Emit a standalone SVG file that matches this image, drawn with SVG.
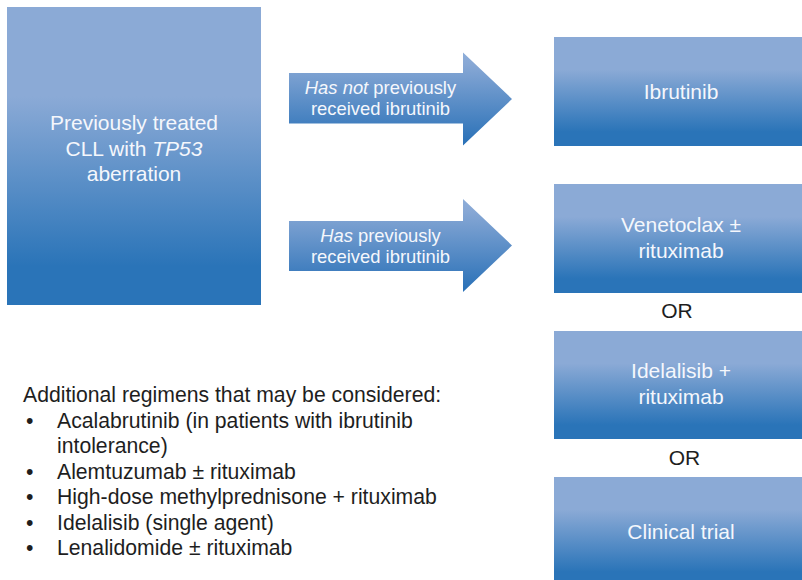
<svg xmlns="http://www.w3.org/2000/svg" width="802" height="580" viewBox="0 0 802 580">
  <defs>
    <!-- box fill: flat light top, blend, flat dark bottom -->
    <linearGradient id="boxFill" x1="0" y1="0" x2="0" y2="1">
      <stop offset="0" stop-color="#8BAAD6"/>
      <stop offset="0.3" stop-color="#8BAAD6"/>
      <stop offset="0.87" stop-color="#2A74B8"/>
      <stop offset="1" stop-color="#2A74B8"/>
    </linearGradient>
    <!-- block arrow fill: light top to dark bottom -->
    <linearGradient id="arrowFill" x1="0" y1="0" x2="0" y2="1">
      <stop offset="0" stop-color="#8DADD9"/>
      <stop offset="0.12" stop-color="#88A8D5"/>
      <stop offset="1" stop-color="#2870B7"/>
    </linearGradient>
    <style>
      .box { fill: url(#boxFill); }
      .arrow { fill: url(#arrowFill); }
      .lbl { font-family: "Liberation Sans", Arial, Helvetica, sans-serif; fill: #F5F7FC; text-anchor: middle; }
      .big { font-size: 21px; }
      .alab { font-size: 18.4px; }
      .dark { font-family: "Liberation Sans", Arial, Helvetica, sans-serif; fill: #1E1E1E; font-size: 21.2px; }
      .or { text-anchor: middle; font-size: 21px; }
      .it { font-style: italic; }
    </style>
  </defs>

  <rect width="802" height="580" fill="#FFFFFF"/>

  <!-- starting condition -->
  <g id="node-start">
    <rect class="box" x="7" y="7" width="254" height="298"/>
    <text class="lbl big" x="134" y="130">Previously treated</text>
    <text class="lbl big" x="134" y="156">CLL with <tspan class="it">TP53</tspan></text>
    <text class="lbl big" x="134" y="181">aberration</text>
  </g>

  <!-- branch arrows -->
  <g id="connectors">
    <g id="arrow-naive">
      <path class="arrow" d="M289,73 H463 V52.5 L512,99 L463,145.5 V123.5 H289 Z"/>
      <text class="lbl alab" x="380.5" y="94"><tspan class="it">Has not</tspan> previously</text>
      <text class="lbl alab" x="380.5" y="115">received ibrutinib</text>
    </g>
    <g id="arrow-exposed">
      <path class="arrow" d="M289,221 H463 V199 L512,245.5 L463,292 V271 H289 Z"/>
      <text class="lbl alab" x="380.5" y="242"><tspan class="it">Has</tspan> previously</text>
      <text class="lbl alab" x="380.5" y="263">received ibrutinib</text>
    </g>
  </g>

  <!-- treatment options -->
  <g id="node-ibrutinib">
    <rect class="box" x="554" y="37" width="248" height="109"/>
    <text class="lbl big" x="681" y="99">Ibrutinib</text>
  </g>

  <g id="node-venetoclax">
    <rect class="box" x="554" y="184" width="248" height="109"/>
    <text class="lbl big" x="681" y="232">Venetoclax ±</text>
    <text class="lbl big" x="681" y="258">rituximab</text>
  </g>

  <text class="dark or" x="677" y="318">OR</text>

  <g id="node-idelalisib">
    <rect class="box" x="554" y="331" width="248" height="108"/>
    <text class="lbl big" x="681" y="378">Idelalisib +</text>
    <text class="lbl big" x="681" y="404">rituximab</text>
  </g>

  <text class="dark or" x="684.5" y="465">OR</text>

  <g id="node-trial">
    <rect class="box" x="554" y="477" width="248" height="109"/>
    <text class="lbl big" x="681" y="539">Clinical trial</text>
  </g>

  <!-- additional regimens list -->
  <g id="regimens">
    <text class="dark" x="23" y="402">Additional regimens that may be considered:</text>
    <text class="dark" x="26" y="427.5">•</text>
    <text class="dark" x="57" y="427.5">Acalabrutinib (in patients with ibrutinib</text>
    <text class="dark" x="57" y="453">intolerance)</text>
    <text class="dark" x="26" y="478.5">•</text>
    <text class="dark" x="57" y="478.5">Alemtuzumab ± rituximab</text>
    <text class="dark" x="26" y="504">•</text>
    <text class="dark" x="57" y="504">High-dose methylprednisone + rituximab</text>
    <text class="dark" x="26" y="529.5">•</text>
    <text class="dark" x="57" y="529.5">Idelalisib (single agent)</text>
    <text class="dark" x="26" y="555">•</text>
    <text class="dark" x="57" y="555">Lenalidomide ± rituximab</text>
  </g>
</svg>
